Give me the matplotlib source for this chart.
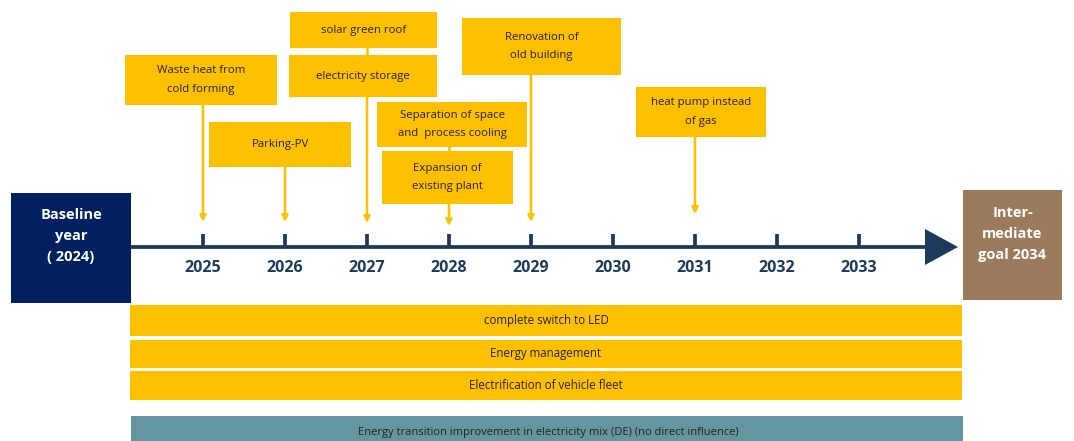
import matplotlib
matplotlib.use("Agg")
import matplotlib.pyplot as plt
from matplotlib.patches import Rectangle, Polygon

# ---------------- data ----------------
years = [2025, 2026, 2027, 2028, 2029, 2030, 2031, 2032, 2033]
milestone_years = [2025, 2026, 2027, 2027, 2028, 2028, 2029, 2031]
milestone_labels = ["Waste heat from\ncold forming", "Parking-PV", "solar green roof",
                    "electricity storage", "Separation of space\nand  process cooling",
                    "Expansion of\nexisting plant", "Renovation of\nold building",
                    "heat pump instead\nof gas"]
bar_labels = ["complete switch to LED", "Energy management",
              "Electrification of vehicle fleet"]
external_label = "Energy transition improvement in electricity mix (DE) (no direct influence)"
start_label = "Baseline\nyear\n( 2024)"
goal_label = "Inter-\nmediate\ngoal 2034"

# ---------------- style ----------------
YELLOW = "#FFC000"
NAVY = "#002060"
LINE = "#1B3A5C"
BROWN = "#9C7B5C"
TEAL = "#63969F"
FONT = "Open Sans"

W, H = 1074, 441
fig = plt.figure(figsize=(W / 100, H / 100), dpi=100)
ax = fig.add_axes([0, 0, 1, 1])
# x axis in years: 2025 at px 203, 82 px per year
X0_PX, STEP = 203, 82.0
def px(x):
    return 2025 + (x - X0_PX) / STEP
ax.set_xlim(px(0), px(W))
ax.set_ylim(H, 0)
ax.axis("off")

def box(x0, x1, y0, y1, color, text=None, tcolor="#222222", fs=8, bold=False, ty=None, tx=None,
        ls=1.9):
    ax.add_patch(Rectangle((px(x0), y0), px(x1) - px(x0), y1 - y0, facecolor=color,
                           edgecolor="none", zorder=3))
    if text:
        ax.text(px((x0 + x1) / 2) if tx is None else px(tx),
                (y0 + y1) / 2 if ty is None else ty, text, ha="center", va="center",
                color=tcolor, fontsize=fs, family=FONT,
                fontweight="bold" if bold else "normal", linespacing=ls, zorder=4)

# timeline
TL_Y = 247
ax.plot([px(131), px(930)], [TL_Y, TL_Y], color=LINE, lw=2.7, zorder=2, solid_capstyle="butt")
ax.add_patch(Polygon([[px(925), 229], [px(925), 265], [px(958), TL_Y]], closed=True,
                     facecolor=LINE, edgecolor="none", zorder=2))
for y in years:
    ax.plot([y, y], [234, TL_Y], color=LINE, lw=2.7, zorder=2, solid_capstyle="butt")
    ax.text(y, 268, str(y), ha="center", va="center", color=LINE, fontsize=11.5,
            family=FONT, fontweight="bold")

# endpoint boxes
box(11, 131, 193, 303, NAVY, start_label, tcolor="white", fs=10.5, bold=True, ty=236, ls=1.6)
box(963, 1062, 190, 300, BROWN, goal_label, tcolor="white", fs=10.5, bold=True, ty=234, ls=1.6)

# callout layout (pixel boxes) : x0, x1, y0, y1, arrow start y, arrow end y (None -> no arrow)
layout = [
    (125, 277, 55, 105, 105, 222),
    (209, 351, 122, 167, 167, 222),
    (290, 437, 12, 48, None, None),
    (289, 437, 55, 97, 97, 223),
    (377, 527, 102, 147, None, None),
    (382, 513, 151, 204, 204, 226),
    (462, 621, 18, 75, 75, 222),
    (636, 766, 87, 137, 137, 214),
]
for yr, lab, (x0, x1, y0, y1, a0, a1) in zip(milestone_years, milestone_labels, layout):
    box(x0, x1, y0, y1, YELLOW, lab, fs=8.2)
    if a0 is not None:
        ax.annotate("", xy=(yr, a1), xytext=(yr, a0),
                    arrowprops=dict(arrowstyle="-|>", color=YELLOW, lw=1.8,
                                    mutation_scale=9, shrinkA=0, shrinkB=0), zorder=2)
# small connectors between stacked boxes
ax.plot([milestone_years[2], milestone_years[2]], [48, 55], color=YELLOW, lw=1.8, zorder=2)
ax.plot([milestone_years[4], milestone_years[4]], [147, 151], color=YELLOW, lw=1.8, zorder=2)

# continuous measure bars
bar_rows = [(305, 336), (340, 368), (371, 400)]
for lab, (y0, y1) in zip(bar_labels, bar_rows):
    box(130, 962, y0, y1, YELLOW, lab, fs=8.3, tx=546)
box(131, 963, 416, 445, TEAL, external_label, fs=8, tx=548, ty=432)

fig.savefig("out.png", dpi=100)
